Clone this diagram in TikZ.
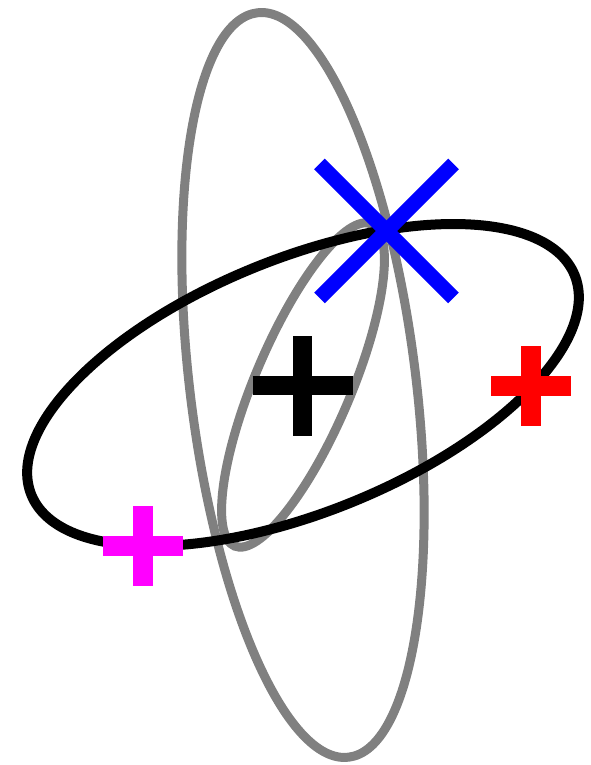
\documentclass[tikz,border=0pt]{standalone}
\usepackage{xcolor}
\usepackage{tikz}
\usetikzlibrary{positioning}
\definecolor{RingGray}{HTML}{808080}
\definecolor{RingBlack}{HTML}{000000}
\definecolor{PtBlue}{HTML}{0000FF}
\definecolor{PtRed}{HTML}{FF0000}
\definecolor{PtMagenta}{HTML}{FF00FF}

\begin{document}
\begin{tikzpicture}[
    x=1pt, y=1pt,
    gray ring/.style={draw=RingGray,line width=9pt},
    black ring/.style={draw=RingBlack,line width=10pt},
    bar/.style={line cap=butt}
  ]
    \useasboundingbox (0,0) rectangle (590,765);
    \coordinate (ctr) at (303,380);
    % gray ellipses
    \draw[gray ring,rotate around={97:(ctr)}] (ctr) ellipse [x radius=375pt,y radius=113pt];
    \draw[gray ring,rotate around={67:(ctr)}] (ctr) ellipse [x radius=175pt,y radius=48pt];
    % black ellipse
    \draw[black ring,rotate around={22:(ctr)}] (ctr) ellipse [x radius=293pt,y radius=127pt];
    % plus markers
    \foreach \name/\px/\py/\col/\arm/\wd in {
      mean/302.7/379/RingBlack/50/19,
      right/531/379/PtRed/40/20,
      left/142.7/219/PtMagenta/40/20
    }{
      \coordinate (\name) at (\px,\py);
      \draw[\col,bar,line width=\wd pt] (\name) ++(-\arm,0) -- ++(2*\arm,0);
      \draw[\col,bar,line width=\wd pt] (\name) ++(0,-\arm) -- ++(0,2*\arm);
    }
    % cross marker
    \coordinate (top) at (386.5,534);
    \draw[PtBlue,bar,line width=15pt] (top) ++(-67,-67) -- ++(134,134);
    \draw[PtBlue,bar,line width=15pt] (top) ++(-67,67) -- ++(134,-134);
  \end{tikzpicture}
\end{document}
